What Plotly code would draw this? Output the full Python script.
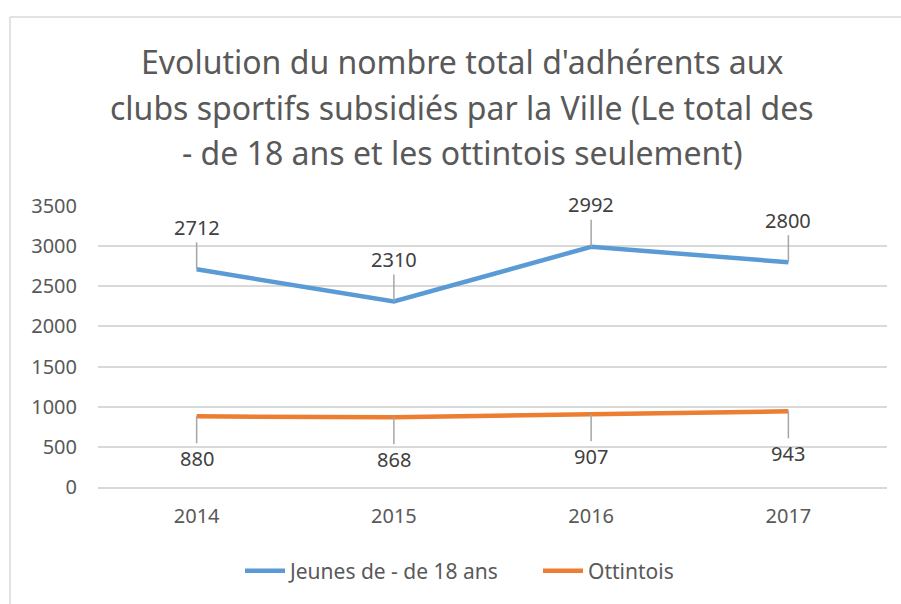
import plotly.graph_objects as go

years = ["2014", "2015", "2016", "2017"]
jeunes = [2712, 2310, 2992, 2800]
ottintois = [880, 868, 907, 943]
series_names = ["Jeunes de - de 18 ans", "Ottintois"]
title_lines = [
    "Evolution du nombre total d'adhérents aux",
    "clubs sportifs subsidiés par la Ville (Le total des",
    "- de 18 ans et les ottintois seulement)",
]
y_ticks = [0, 500, 1000, 1500, 2000, 2500, 3000, 3500]

W, H = 901, 604
ML, MR, MT, MB = 98, 14, 206, 114
FONT = "Noto Sans"
BLUE = "#5B9BD5"
ORANGE = "#ED7D31"

def py(pix):
    # pixel y (from top) -> paper y
    return (H - MB - pix) / (H - MT - MB)

def px(pix):
    return (pix - ML) / (W - ML - MR)

fig = go.Figure()
fig.add_trace(go.Scatter(x=years, y=jeunes, name=series_names[0], mode="lines",
                         line=dict(color=BLUE, width=4.5), showlegend=True))
fig.add_trace(go.Scatter(x=years, y=ottintois, name=series_names[1], mode="lines",
                         line=dict(color=ORANGE, width=4.5), showlegend=True))

annotations = []
for i, t in enumerate(title_lines):
    annotations.append(dict(text=t, xref="paper", yref="paper", x=px(462), y=py(60 + 46 * i),
                            xanchor="center", yanchor="middle", showarrow=False,
                            font=dict(family=FONT, size=32, color="#595959")))

for i, v in enumerate(jeunes):
    annotations.append(dict(x=i, y=v, xref="x", yref="y", text=str(v), showarrow=True,
                            arrowhead=0, arrowwidth=1.5, arrowcolor="#A6A6A6", ax=0, ay=-42,
                            standoff=0, font=dict(family=FONT, size=20, color="#404040")))
for i, v in enumerate(ottintois):
    annotations.append(dict(x=i, y=v, xref="x", yref="y", text=str(v), showarrow=True,
                            arrowhead=0, arrowwidth=1.5, arrowcolor="#A6A6A6", ax=0, ay=42,
                            standoff=0, font=dict(family=FONT, size=20, color="#404040")))

fig.update_layout(
    width=W, height=H,
    margin=dict(l=ML, r=MR, t=MT, b=MB),
    paper_bgcolor="white", plot_bgcolor="white",
    font=dict(family=FONT, color="#595959", size=20),
    annotations=annotations,
    legend=dict(orientation="h", x=px(538), xanchor="center", y=py(575), yanchor="middle",
                font=dict(family=FONT, size=21, color="#595959"), itemwidth=40,
                entrywidth=243, entrywidthmode="pixels"),
    shapes=[
        dict(type="line", xref="paper", yref="paper", x0=px(10), x1=px(1000),
             y0=py(15), y1=py(15), line=dict(color="#D9D9D9", width=1.5), layer="below"),
        dict(type="line", xref="paper", yref="paper", x0=px(10), x1=px(10),
             y0=py(15), y1=py(700), line=dict(color="#D9D9D9", width=1.5), layer="below"),
    ],
    xaxis=dict(type="category", range=[-0.5, 3.5], showgrid=False, showline=True,
               linecolor="#D9D9D9", linewidth=1.5, ticks="", ticklabelstandoff=10,
               tickfont=dict(family=FONT, size=20, color="#595959"), fixedrange=True),
    yaxis=dict(range=[0, 3500], tickvals=y_ticks, showgrid=True, gridcolor="#D9D9D9",
               gridwidth=1.5, zeroline=False, showline=False, ticks="", ticklabelstandoff=20,
               tickfont=dict(family=FONT, size=20, color="#595959"), fixedrange=True),
)

fig.write_html("out.html", config={"displayModeBar": False},
               post_script="document.body.style.margin='0';document.body.style.overflow='hidden';")
